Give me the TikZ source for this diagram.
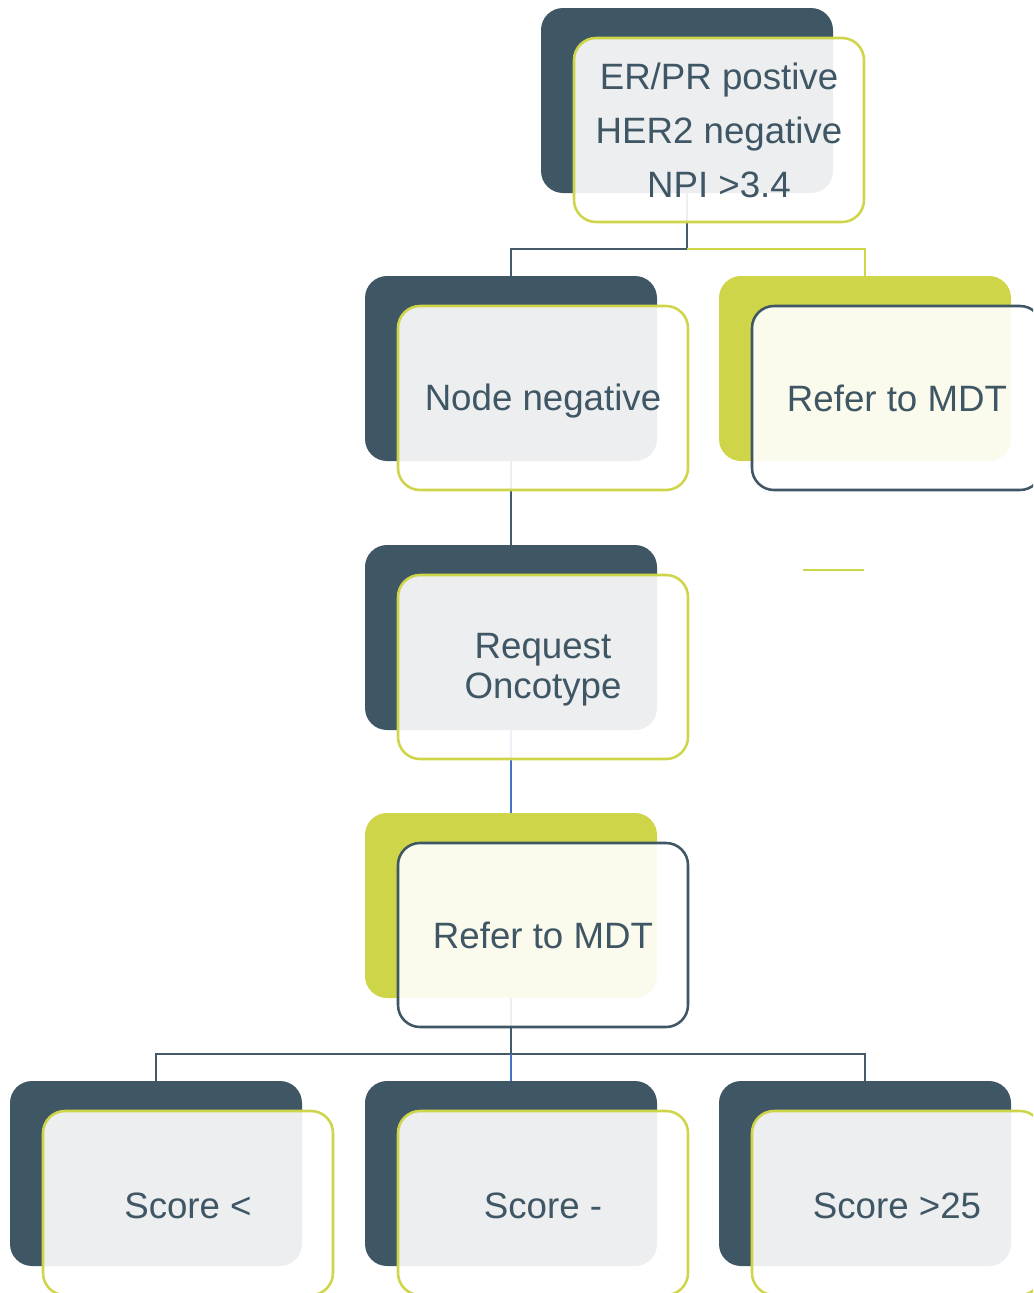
\documentclass[tikz,border=0pt]{standalone}
\usepackage{fontspec}
\setmainfont{Liberation Sans}
\definecolor{darkslate}{HTML}{3F5664}
\definecolor{conn}{HTML}{44596A}
\definecolor{lime}{HTML}{CFD548}
\definecolor{blueline}{HTML}{4472C4}
\newcommand{\lowr}[1]{\raisebox{-2.2pt}[\height][\depth]{#1}}
\tikzset{
  backdark/.style={rectangle, rounded corners=16.5pt, fill=darkslate, minimum width=219pt, minimum height=138.75pt, inner sep=0pt, outer sep=0pt},
  backlime/.style={backdark, fill=lime},
  frontbox/.style={rectangle, rounded corners=16.5pt, draw=lime, line width=1.9pt, fill=white, fill opacity=0.9, text opacity=1, text=darkslate, minimum width=217.5pt, minimum height=138pt, inner sep=0pt, outer sep=0pt, font=\fontsize{27.5}{30}\selectfont, align=center},
  frontdark/.style={frontbox, draw=darkslate},
  connd/.style={draw=conn, line width=1.6pt},
  connl/.style={draw=lime, line width=1.6pt},
  connb/.style={draw=blueline, line width=1.6pt},
}
\begin{document}
\begin{tikzpicture}[x=0.75pt, y=-0.75pt]
\useasboundingbox (0,0) rectangle (1033,1293);
\clip (0,0) rectangle (1033,1293);
% back boxes
\node[backdark] (btop) at (687,100.5) {};
\node[backdark] (bnn) at (511,368.5) {};
\node[backlime] (brr) at (865,368.5) {};
\node[backdark] (breq) at (511,637.5) {};
\node[backlime] (brm) at (511,905.5) {};
\node[backdark] (bs1) at (156,1173.5) {};
\node[backdark] (bs2) at (511,1173.5) {};
\node[backdark] (bs3) at (865,1173.5) {};
% junctions
\coordinate (j1) at (687,249);
\coordinate (j3) at (511,1054);
\coordinate (st1) at (803,570);
\coordinate (st2) at (864,570);
% connectors
\draw[connd] (btop.south) -- (j1) -| (bnn.north);
\draw[connl] (j1) -| (brr.north);
\draw[connd] (bnn.south) -- (breq.north);
\draw[connb] (breq.south) -- (brm.north);
\draw[connd] (brm.south) -- (j3);
\draw[connd] (j3) -| (bs1.north);
\draw[connd] (j3) -| (bs3.north);
\draw[connb] (j3) -- (bs2.north);
\draw[draw=lime, line width=1.1pt] (st1) -- (st2);
% front boxes
\node[frontbox, font=\fontsize{27.5}{40.5}\selectfont] (ftop) at (719,130) {ER/PR postive\\HER2 negative\\NPI >3.4};
\node[frontbox] (fnn) at (543,398) {\lowr{Node negative}};
\node[frontdark] (frr) at (897,398) {Refer to MDT};
\node[frontbox] (freq) at (543,667) {\lowr{Request}\\\lowr{Oncotype}};
\node[frontdark] (frm) at (543,935) {Refer to MDT};
\node[frontbox] (fs1) at (188,1203) {\lowr{Score <}};
\node[frontbox] (fs2) at (543,1203) {\lowr{Score -}};
\node[frontbox] (fs3) at (897,1203) {\lowr{Score >25}};
\end{tikzpicture}
\end{document}
